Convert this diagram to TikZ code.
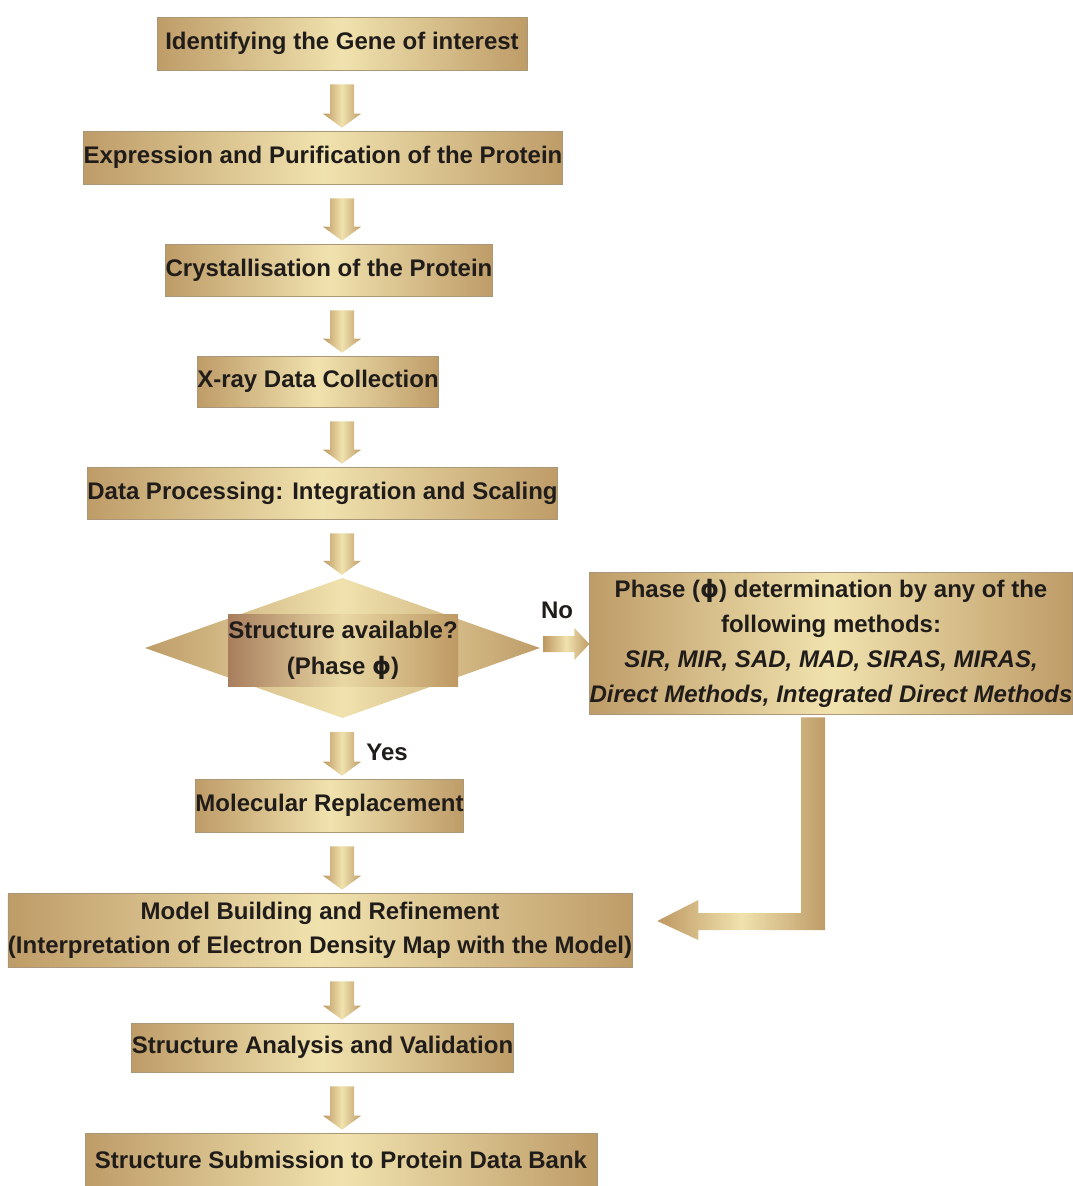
\documentclass[tikz,border=0pt]{standalone}
\usepackage{fontspec}
\setmainfont{Liberation Sans}
\newfontfamily\dvs{DejaVu Sans}
\usetikzlibrary{calc,shapes.geometric}
\definecolor{goldA}{RGB}{190,156,104}
\definecolor{goldB}{RGB}{240,226,174}
\definecolor{goldC}{RGB}{168,126,94}
\definecolor{edgec}{RGB}{170,150,120}
\definecolor{txt}{RGB}{32,28,26}
\tikzset{
  box/.style={rectangle, inner sep=0pt, draw=edgec, line width=0.6pt,
    left color=goldA, right color=goldA, middle color=goldB,
    font=\fontsize{24}{28}\selectfont\bfseries, text=txt, align=center},
  blockarr/.style={left color=goldA!85!brown, right color=goldA, middle color=goldB},
  lbl/.style={font=\fontsize{24}{28}\selectfont\bfseries, text=txt, inner sep=0pt},
}
\newcommand\darr[2]{%
  \path[blockarr] let \p1=(#1.south), \p2=(#2.north), \p3=(col) in
    (\x3-12,\y1-14) -- (\x3+12,\y1-14) -- (\x3+12,\y2+17) -- (\x3+19,\y2+17)
    -- (\x3,\y2+3) -- (\x3-19,\y2+17) -- (\x3-12,\y2+17) -- cycle;}
\begin{document}
\begin{tikzpicture}[x=1pt,y=-1pt]
\useasboundingbox[fill=white] (0,0) rectangle (1072,1186);
\coordinate (col) at (342,0);

\node[box, minimum width=370pt, minimum height=53pt] (b1) at (342,43.5) {Identifying the Gene of interest};
\node[box, minimum width=476pt, minimum height=53pt] (b2) at (323,157.5) {Expression and Purification of the Protein};
\node[box, minimum width=326pt, minimum height=52pt] (b3) at (329,270) {Crystallisation of the Protein};
\node[box, minimum width=240pt, minimum height=51pt] (b4) at (318,381.5) {X-ray Data Collection};
\node[box, minimum width=465pt, minimum height=52pt] (b5) at (322.5,493) {Data Processing: Integration and Scaling};

\node[diamond, inner sep=0pt, minimum width=395pt, minimum height=140pt,
      left color=goldA, right color=goldA, middle color=goldB] (dia) at (342.5,648) {};
\node[box, draw=none, minimum width=230pt, minimum height=72pt,
      left color=goldC, right color=goldA!90!brown, middle color=goldB!85!goldA,
      font=\fontsize{24}{36}\selectfont\bfseries] (q) at (343,650)
      {Structure available?\\(Phase {\dvs ϕ})};

\node[box, minimum width=482pt, minimum height=142pt, font=\fontsize{24}{35}\selectfont\bfseries] (phase) at (831,643)
  {Phase ({\dvs ϕ}) determination by any of the\\following methods:\\
   \textit{SIR, MIR, SAD, MAD, SIRAS, MIRAS,}\\
   \textit{Direct Methods, Integrated Direct Methods}};

\node[box, minimum width=265pt, minimum height=53pt] (mr) at (329.5,805.5) {Molecular Replacement};
\node[box, minimum width=624pt, minimum height=74pt, font=\fontsize{24}{34}\selectfont\bfseries] (model) at (320,930)
  {Model Building and Refinement\\(Interpretation of Electron Density Map with the Model)};
\node[box, minimum width=379pt, minimum height=49pt] (sa) at (322.5,1047.5) {Structure Analysis and Validation};
\node[box, minimum width=512pt, minimum height=53pt] (fin) at (341,1159.5) {Structure Submission to Protein Data Bank};

\darr{b1}{b2}
\darr{b2}{b3}
\darr{b3}{b4}
\darr{b4}{b5}
\darr{b5}{dia}
\darr{dia}{mr}
\darr{mr}{model}
\darr{model}{sa}
\darr{sa}{fin}

% No arrow
\path[blockarr] let \p1=(dia.east), \p2=(phase.west) in
  (\x1+3,\y1+12) -- (\x2-15,\y1+12) -- (\x2-15,\y1+20) -- (\x2,\y1+4)
  -- (\x2-15,\y1-12) -- (\x2-15,\y1-4) -- (\x1+3,\y1-4) -- cycle;
\node[lbl] (no) at (557,610) {No};
\node[lbl] (yes) at (387,752) {Yes};

% elbow arrow from phase box to model box
\path[blockarr] let \p1=(phase.south), \p2=(model.east) in
  (\x1-30,\y1-3) -- (\x1-6,\y1-3) -- (\x1-6,\y2) -- (\x2+66,\y2)
  -- (\x2+66,\y2-10) -- (\x2+25,\y2+9) -- (\x2+66,\y2+30)
  -- (\x2+66,\y2+17) -- (\x1-30,\y2+17) -- cycle;
\end{tikzpicture}
\end{document}
